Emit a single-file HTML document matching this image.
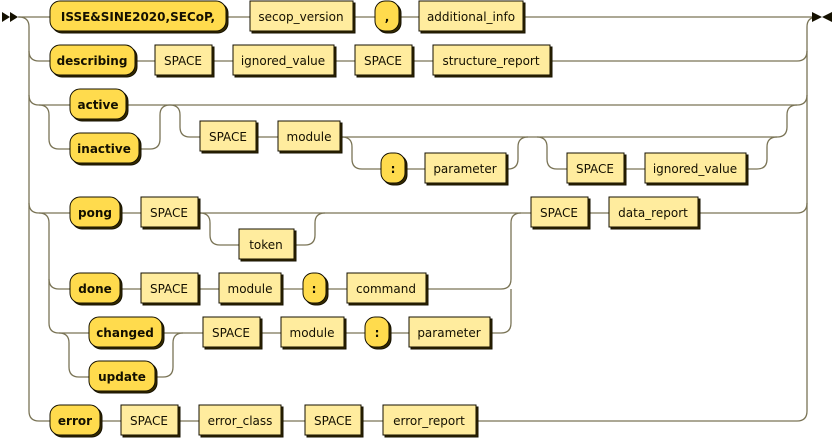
<!DOCTYPE html>
<html><head><meta charset="utf-8"><style>
html,body{margin:0;padding:0;background:#fff;}
svg{display:block;}
text{font-family:Verdana,"DejaVu Sans","Liberation Sans",sans-serif;font-size:12px;fill:#141000;}
.t{font-weight:bold;}
.ln{fill:none;stroke:#7a7456;stroke-width:1.3;}
</style></head><body>
<svg width="836" height="440" viewBox="0 0 836 440" xmlns="http://www.w3.org/2000/svg">
<g class="ln">
<path d="M18 17 H812"/>
<path d="M19 17 q10 0 10 10 V411 q0 10 10 10 H797 q10 0 10 -10 V27 q0 -10 10 -10"/>
<path d="M29 51 q0 10 10 10 H797 q10 0 10 -10"/>
<path d="M29 95 q0 10 10 10 H797 q10 0 10 -10"/>
<path d="M39 105 q10 0 10 10 V139 q0 10 10 10 H70"/>
<path d="M141 149 H150 q10 0 10 -10 V115 q0 -10 10 -10"/>
<path d="M170 105 q10 0 10 10 V127 q0 10 10 10 H777 q10 0 10 -10 V115 q0 -10 10 -10"/>
<path d="M342 137 q10 0 10 10 V159 q0 10 10 10 H508"/>
<path d="M508 169 q10 0 10 -10 V147 q0 -10 10 -10"/>
<path d="M537 137 q10 0 10 10 V159 q0 10 10 10 H748"/>
<path d="M748 169 H757 q10 0 10 -10 V147 q0 -10 10 -10"/>
<path d="M29 203 q0 10 10 10 H797 q10 0 10 -10"/>
<path d="M200 213 q10 0 10 10 V235 q0 10 10 10 H239"/>
<path d="M296 245 H305 q10 0 10 -10 V223 q0 -10 10 -10"/>
<path d="M39 213 q10 0 10 10 V323 q0 10 10 10 H89"/>
<path d="M49 279 q0 10 10 10 H501 q10 0 10 -10 V223 q0 -10 10 -10"/>
<path d="M492 333 H501 q10 0 10 -10 V289"/>
<path d="M59 333 q10 0 10 10 V367 q0 10 10 10 H89"/>
<path d="M164 333 H409"/>
<path d="M157 377 H163 q10 0 10 -10 V343 q0 -10 10 -10"/>
</g>
<g fill="#141000">
<polygon points="2,12 10,17 2,22"/><polygon points="10,12 18,17 10,22"/>
<polygon points="812,12 822,17 812,22"/><polygon points="832,12 822,17 832,22"/>
</g>
<g>
<g stroke="#141000" stroke-width="1">
<rect x="52" y="3" width="176" height="30" rx="10" fill="#332900"/><rect x="50" y="1" width="176" height="30" rx="10" fill="#FFDB4D"/>
<rect x="252" y="3" width="103" height="30" fill="#332900"/><rect x="250" y="1" width="103" height="30" fill="#FFEC9E"/>
<rect x="377" y="3" width="24" height="30" rx="10" fill="#332900"/><rect x="375" y="1" width="24" height="30" rx="10" fill="#FFDB4D"/>
<rect x="421" y="3" width="104" height="30" fill="#332900"/><rect x="419" y="1" width="104" height="30" fill="#FFEC9E"/>
<rect x="52" y="47" width="85" height="30" rx="10" fill="#332900"/><rect x="50" y="45" width="85" height="30" rx="10" fill="#FFDB4D"/>
<rect x="157" y="47" width="57" height="30" fill="#332900"/><rect x="155" y="45" width="57" height="30" fill="#FFEC9E"/>
<rect x="235" y="47" width="101" height="30" fill="#332900"/><rect x="233" y="45" width="101" height="30" fill="#FFEC9E"/>
<rect x="357" y="47" width="57" height="30" fill="#332900"/><rect x="355" y="45" width="57" height="30" fill="#FFEC9E"/>
<rect x="435" y="47" width="117" height="30" fill="#332900"/><rect x="433" y="45" width="117" height="30" fill="#FFEC9E"/>
<rect x="72" y="91" width="56" height="30" rx="10" fill="#332900"/><rect x="70" y="89" width="56" height="30" rx="10" fill="#FFDB4D"/>
<rect x="72" y="135" width="69" height="30" rx="10" fill="#332900"/><rect x="70" y="133" width="69" height="30" rx="10" fill="#FFDB4D"/>
<rect x="202" y="123" width="56" height="30" fill="#332900"/><rect x="200" y="121" width="56" height="30" fill="#FFEC9E"/>
<rect x="280" y="123" width="62" height="30" fill="#332900"/><rect x="278" y="121" width="62" height="30" fill="#FFEC9E"/>
<rect x="383" y="155" width="24" height="30" rx="10" fill="#332900"/><rect x="381" y="153" width="24" height="30" rx="10" fill="#FFDB4D"/>
<rect x="427" y="155" width="81" height="30" fill="#332900"/><rect x="425" y="153" width="81" height="30" fill="#FFEC9E"/>
<rect x="569" y="155" width="57" height="30" fill="#332900"/><rect x="567" y="153" width="57" height="30" fill="#FFEC9E"/>
<rect x="647" y="155" width="101" height="30" fill="#332900"/><rect x="645" y="153" width="101" height="30" fill="#FFEC9E"/>
<rect x="72" y="199" width="50" height="30" rx="10" fill="#332900"/><rect x="70" y="197" width="50" height="30" rx="10" fill="#FFDB4D"/>
<rect x="143" y="199" width="57" height="30" fill="#332900"/><rect x="141" y="197" width="57" height="30" fill="#FFEC9E"/>
<rect x="241" y="231" width="55" height="30" fill="#332900"/><rect x="239" y="229" width="55" height="30" fill="#FFEC9E"/>
<rect x="533" y="199" width="57" height="30" fill="#332900"/><rect x="531" y="197" width="57" height="30" fill="#FFEC9E"/>
<rect x="611" y="199" width="89" height="30" fill="#332900"/><rect x="609" y="197" width="89" height="30" fill="#FFEC9E"/>
<rect x="72" y="275" width="50" height="30" rx="10" fill="#332900"/><rect x="70" y="273" width="50" height="30" rx="10" fill="#FFDB4D"/>
<rect x="143" y="275" width="57" height="30" fill="#332900"/><rect x="141" y="273" width="57" height="30" fill="#FFEC9E"/>
<rect x="221" y="275" width="62" height="30" fill="#332900"/><rect x="219" y="273" width="62" height="30" fill="#FFEC9E"/>
<rect x="305" y="275" width="23" height="30" rx="10" fill="#332900"/><rect x="303" y="273" width="23" height="30" rx="10" fill="#FFDB4D"/>
<rect x="349" y="275" width="79" height="30" fill="#332900"/><rect x="347" y="273" width="79" height="30" fill="#FFEC9E"/>
<rect x="91" y="319" width="73" height="30" rx="10" fill="#332900"/><rect x="89" y="317" width="73" height="30" rx="10" fill="#FFDB4D"/>
<rect x="91" y="363" width="66" height="30" rx="10" fill="#332900"/><rect x="89" y="361" width="66" height="30" rx="10" fill="#FFDB4D"/>
<rect x="205" y="319" width="57" height="30" fill="#332900"/><rect x="203" y="317" width="57" height="30" fill="#FFEC9E"/>
<rect x="283" y="319" width="63" height="30" fill="#332900"/><rect x="281" y="317" width="63" height="30" fill="#FFEC9E"/>
<rect x="367" y="319" width="24" height="30" rx="10" fill="#332900"/><rect x="365" y="317" width="24" height="30" rx="10" fill="#FFDB4D"/>
<rect x="411" y="319" width="81" height="30" fill="#332900"/><rect x="409" y="317" width="81" height="30" fill="#FFEC9E"/>
<rect x="52" y="407" width="50" height="30" rx="10" fill="#332900"/><rect x="50" y="405" width="50" height="30" rx="10" fill="#FFDB4D"/>
<rect x="123" y="407" width="57" height="30" fill="#332900"/><rect x="121" y="405" width="57" height="30" fill="#FFEC9E"/>
<rect x="201" y="407" width="82" height="30" fill="#332900"/><rect x="199" y="405" width="82" height="30" fill="#FFEC9E"/>
<rect x="307" y="407" width="56" height="30" fill="#332900"/><rect x="305" y="405" width="56" height="30" fill="#FFEC9E"/>
<rect x="385" y="407" width="93" height="30" fill="#332900"/><rect x="383" y="405" width="93" height="30" fill="#FFEC9E"/>
</g>
<g text-anchor="middle">
<text class="t" x="138" y="21">ISSE&amp;SINE2020,SECoP,</text>
<text x="301" y="21">secop_version</text>
<text class="t" x="387" y="21">,</text>
<text x="471" y="21">additional_info</text>
<text class="t" x="92" y="65">describing</text>
<text x="183" y="65">SPACE</text>
<text x="283" y="65">ignored_value</text>
<text x="383" y="65">SPACE</text>
<text x="491" y="65">structure_report</text>
<text class="t" x="98" y="109">active</text>
<text class="t" x="104" y="153">inactive</text>
<text x="228" y="141">SPACE</text>
<text x="309" y="141">module</text>
<text class="t" x="393" y="173">:</text>
<text x="465" y="173">parameter</text>
<text x="595" y="173">SPACE</text>
<text x="695" y="173">ignored_value</text>
<text class="t" x="95" y="217">pong</text>
<text x="169" y="217">SPACE</text>
<text x="266" y="249">token</text>
<text x="559" y="217">SPACE</text>
<text x="653" y="217">data_report</text>
<text class="t" x="95" y="293">done</text>
<text x="169" y="293">SPACE</text>
<text x="250" y="293">module</text>
<text class="t" x="314" y="293">:</text>
<text x="386" y="293">command</text>
<text class="t" x="125" y="337">changed</text>
<text class="t" x="122" y="381">update</text>
<text x="231" y="337">SPACE</text>
<text x="312" y="337">module</text>
<text class="t" x="377" y="337">:</text>
<text x="449" y="337">parameter</text>
<text class="t" x="75" y="425">error</text>
<text x="149" y="425">SPACE</text>
<text x="240" y="425">error_class</text>
<text x="333" y="425">SPACE</text>
<text x="429" y="425">error_report</text>
</g>
</g>
</svg>
</body></html>
